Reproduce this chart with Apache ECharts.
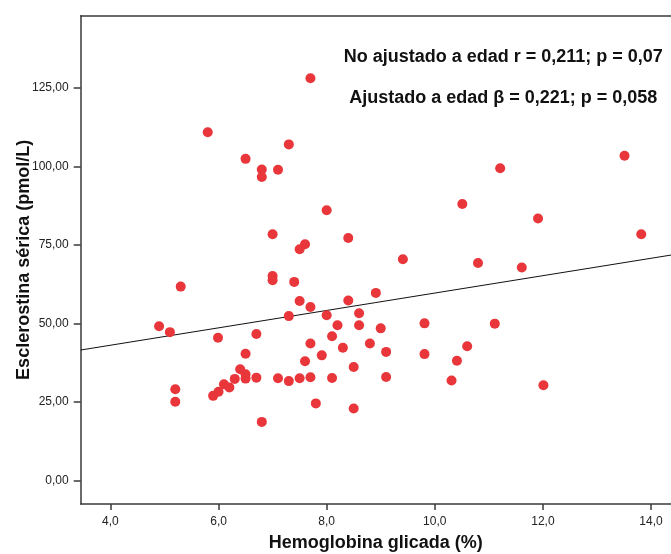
<!DOCTYPE html>
<html>
<head>
<meta charset="utf-8">
<script src="https://cdn.jsdelivr.net/npm/echarts@6/dist/echarts.min.js"></script>
<style>
html,body{margin:0;padding:0;background:#fff;}
#chart{width:671px;height:554px;}
</style>
</head>
<body>
<div id="chart"></div>
<script>
// Hemoglobina glicada (%) values
var hba1c = [
  7.70, 5.80, 7.30, 6.50, 6.80, 6.80, 7.10, 8.00, 10.51, 11.21,
  13.51, 11.91, 13.82, 7.00, 7.60, 7.50, 8.40, 9.41, 10.80, 11.61,
  7.00, 7.00, 7.40, 5.30, 8.91, 7.50, 8.40, 7.70, 7.30, 8.00,
  8.60, 4.90, 5.10, 8.20, 8.60, 9.00, 9.81, 11.11, 5.99, 6.70,
  8.10, 7.70, 8.80, 8.30, 9.10, 9.81, 10.60, 6.50, 7.91, 7.60,
  10.41, 8.50, 6.40, 6.50, 6.50, 6.70, 6.30, 6.10, 6.20, 6.00,
  5.90, 5.20, 5.20, 7.10, 7.30, 7.50, 7.70, 8.10, 9.10, 10.31,
  7.80, 6.80, 8.50, 12.01
];
// Esclerostina sérica (pmol/L) values
var esclerostina = [
  128.1, 110.9, 107.0, 102.4, 99.0, 96.6, 98.9, 86.0, 88.0, 99.4,
  103.4, 83.4, 78.4, 78.4, 75.2, 73.6, 77.2, 70.4, 69.2, 67.8,
  65.1, 63.7, 63.2, 61.7, 59.7, 57.1, 57.3, 55.2, 52.3, 52.6,
  53.2, 49.1, 47.2, 49.4, 49.4, 48.4, 50.0, 49.9, 45.4, 46.6,
  45.9, 43.6, 43.6, 42.2, 40.9, 40.2, 42.7, 40.3, 39.8, 37.9,
  38.1, 36.1, 35.4, 33.8, 32.4, 32.7, 32.3, 30.6, 29.6, 28.2,
  26.9, 29.0, 25.0, 32.5, 31.6, 32.5, 32.8, 32.6, 32.9, 31.8,
  24.5, 18.6, 22.9, 30.3
];
// Fit line endpoints
var fitX = [3.45, 14.37];
var fitY = [41.5, 71.75];
// Tick values
var xTicks = [4, 6, 8, 10, 12, 14];
var yTicks = [0, 25, 50, 75, 100, 125];
var annotations = [
  'No ajustado a edad r = 0,211; p = 0,07',
  'Ajustado a edad \u03b2 = 0,221; p = 0,058'
];
var xTitle = 'Hemoglobina glicada (%)';
var yTitle = 'Esclerostina s\u00e9rica (pmol/L)';

var points = hba1c.map(function (v, i) { return [v, esclerostina[i]]; });
var fitLine = fitX.map(function (v, i) { return [v, fitY[i]]; });

var FONT = '"Liberation Sans", Arial, sans-serif';
var chart = echarts.init(document.getElementById('chart'), null, {renderer: 'canvas'});
chart.setOption({
  animation: false,
  backgroundColor: '#ffffff',
  grid: {left: 80.7, top: 15.7, right: 0, bottom: 50, containLabel: false, outerBoundsMode: 'none'},
  xAxis: [{
    type: 'value', min: 3.45, max: 14.37, position: 'bottom',
    splitLine: {show: false},
    axisLine: {show: true, onZero: false, lineStyle: {color: '#3a3a3a', width: 1.5}},
    axisTick: {show: true, customValues: xTicks, length: 6, lineStyle: {color: '#3a3a3a', width: 1.5}},
    axisLabel: {show: true, customValues: xTicks, margin: 12, color: '#222', fontSize: 12, fontFamily: FONT,
      formatter: function (v) { return v.toFixed(1).replace('.', ','); }},
    name: xTitle, nameLocation: 'middle', nameGap: 30, nameMoveOverlap: false,
    nameTextStyle: {fontSize: 18, fontWeight: 'bold', color: '#111', fontFamily: FONT}
  }, {
    type: 'value', min: 3.45, max: 14.37, position: 'top',
    splitLine: {show: false},
    axisLine: {show: true, onZero: false, lineStyle: {color: '#3a3a3a', width: 1.5}},
    axisTick: {show: false}, axisLabel: {show: false}
  }],
  yAxis: [{
    type: 'value', min: -7.55, max: 148,
    splitLine: {show: false},
    axisLine: {show: true, onZero: false, lineStyle: {color: '#3a3a3a', width: 1.5}},
    axisTick: {show: true, customValues: yTicks, length: 7, lineStyle: {color: '#3a3a3a', width: 1.5}},
    axisLabel: {show: true, customValues: yTicks, margin: 12, color: '#222', fontSize: 12, fontFamily: FONT,
      formatter: function (v) { return v.toFixed(2).replace('.', ','); }},
    name: yTitle, nameLocation: 'middle', nameGap: 48, nameRotate: 90, nameMoveOverlap: false,
    nameTextStyle: {fontSize: 18, fontWeight: 'bold', color: '#111', fontFamily: FONT}
  }],
  series: [{
    type: 'line', data: fitLine, symbol: 'none', silent: true,
    lineStyle: {color: '#111', width: 1}, z: 2
  }, {
    type: 'scatter', data: points, symbol: 'circle', symbolSize: 10,
    itemStyle: {color: '#e8363b', opacity: 1}, z: 3
  }],
  graphic: [{
    type: 'text', x: 503.3, y: 56.7,
    style: {text: annotations[0], font: 'bold 18px ' + FONT, fill: '#111', textAlign: 'center', textVerticalAlign: 'middle'}
  }, {
    type: 'text', x: 503.3, y: 98.3,
    style: {text: annotations[1], font: 'bold 18px ' + FONT, fill: '#111', textAlign: 'center', textVerticalAlign: 'middle'}
  }]
});
</script>
</body>
</html>
